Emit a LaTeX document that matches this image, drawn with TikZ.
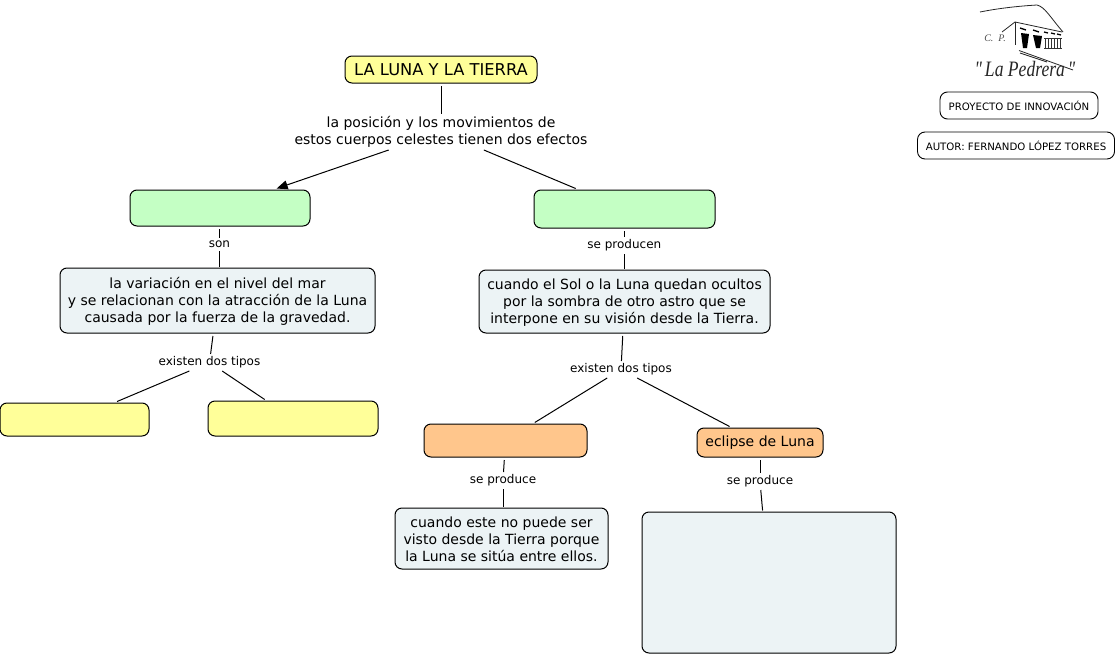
\documentclass[tikz,border=0pt]{standalone}
\usepackage{fontspec}
\setmainfont{DejaVu Sans}
\newfontfamily\logofont{Liberation Serif}
\usetikzlibrary{arrows.meta}
\definecolor{cyellow}{HTML}{FFFF99}
\definecolor{cgreen}{HTML}{C4FFC4}
\definecolor{cblue}{HTML}{ECF3F5}
\definecolor{corange}{HTML}{FFC68C}
\newcommand{\toplift}{\rule{0pt}{12.7pt}}
\tikzset{
  cbox/.style n args={3}{draw=black,line width=1pt,rounded corners=7pt,fill=#1,minimum width=#2,minimum height=#3,inner sep=0pt,outer sep=1.5pt,align=center,font=\fontsize{14}{17}\selectfont},
  linkl/.style={inner sep=0pt,outer sep=0pt,minimum height=#1,text height=9pt,text depth=3pt,font=\fontsize{12}{13}\selectfont},
  infobox/.style n args={2}{draw=black,line width=0.9pt,rounded corners=7.5pt,fill=white,minimum width=#1,minimum height=#2,inner sep=0pt,font=\fontsize{10.2}{11}\selectfont},
  conn/.style={draw=black,line width=1pt},
  fromb/.style={conn,shorten <=1.5pt},
  logoline/.style={draw=black!85,line width=0.8pt},
  logofill/.style={fill=black}
}
\begin{document}
\begin{tikzpicture}[x=1pt,y=-1pt]
\useasboundingbox (0,0) rectangle (1117,656);
\fill[white] (0,0) rectangle (1117,656);
% concept nodes
\node[cbox={cyellow}{192pt}{27pt},font=\fontsize{16.3}{17}\selectfont] (title) at (441,69.5) {LA LUNA Y LA TIERRA};
\node[cbox={cgreen}{180pt}{36pt}] (mareas) at (220,208) {};
\node[cbox={cgreen}{181pt}{38pt}] (eclipses) at (624.5,209) {};
\node[cbox={cblue}{315pt}{65pt}] (varia) at (217.5,300.5) {\toplift la variación en el nivel del mar\\y se relacionan con la atracción de la Luna\\causada por la fuerza de la gravedad.};
\node[cbox={cblue}{291pt}{63pt}] (cuando) at (624.5,301.5) {\toplift cuando el Sol o la Luna quedan ocultos\\por la sombra de otro astro que se\\interpone en su visión desde la Tierra.};
\node[cbox={cyellow}{149pt}{33pt}] (y1) at (74.5,419.5) {};
\node[cbox={cyellow}{170pt}{35pt}] (y2) at (293,418.5) {};
\node[cbox={corange}{163pt}{33pt}] (o1) at (505.5,440.5) {};
\node[cbox={corange}{126pt}{29pt}] (o2) at (760,442.5) {eclipse de Luna};
\node[cbox={cblue}{213pt}{61pt}] (este) at (501.5,538.5) {\toplift cuando este no puede ser\\visto desde la Tierra porque\\la Luna se sitúa entre ellos.};
\node[cbox={cblue}{254pt}{141pt}] (big) at (769,582.5) {};
% linking phrases
\node[inner sep=0pt,outer sep=0pt,minimum height=36pt,align=center,font=\fontsize{14}{17}\selectfont] (lp) at (441,132) {la posición y los movimientos de\\estos cuerpos celestes tienen dos efectos};
\node[linkl=13pt] (son) at (219.5,244.5) {son};
\node[linkl=17pt] (prod) at (624.3,245.5) {se producen};
\node[linkl=17pt] (ex1) at (209.5,362.5) {existen dos tipos};
\node[linkl=17pt] (ex2) at (621,369.5) {existen dos tipos};
\node[linkl=17pt] (sp1) at (503,480.5) {se produce};
\node[linkl=17pt] (sp2) at (760,481.5) {se produce};
% connectors
\draw[fromb] (title) -- (lp);
\draw[conn,-{Triangle[length=11pt,width=9pt]}] (lp) -- (mareas);
\draw[conn] (lp) -- (eclipses);
\draw[fromb] (mareas.south -| son) -- (son.north);
\draw[conn] (son.south) -- (son.south |- varia.north);
\draw[fromb] (eclipses.south -| prod) -- (prod.north);
\draw[conn] (prod.south) -- (prod.south |- cuando.north);
\draw[fromb] (varia) -- (ex1);
\draw[conn] (ex1) -- (y1);
\draw[conn] (ex1) -- (y2);
\draw[fromb] (cuando) -- (ex2);
\draw[conn] (ex2) -- (o1);
\draw[conn] (ex2) -- (o2);
\draw[fromb] (o1) -- (sp1);
\draw[conn] (sp1.south) -- (sp1.south |- este.north);
\draw[fromb] (o2.south -| sp2) -- (sp2.north);
\draw[conn] (sp2) -- (big);
% info boxes
\node[infobox={158pt}{27pt}] (info1) at (1019,105.5) {PROYECTO DE INNOVACIÓN};
\node[infobox={197pt}{27pt}] (info2) at (1016,145.5) {AUTOR: FERNANDO LÓPEZ TORRES};
% logo
\draw[logoline] (980,12) .. controls (1000,8) and (1020,6) .. (1037,5) .. controls (1045,7) and (1050,17) .. (1063,32);
\draw[logoline] (1002,32) -- (1015,22) -- (1062,32);
\draw[logoline] (1015,22) -- (1015,45);
\draw[logoline] (1019,50.5) -- (1073,70);
\draw[logoline] (1020,53) -- (1047,62);
\fill[logofill] (1021,33) -- (1029,34) -- (1027,48) -- (1023,48) -- cycle;
\fill[logofill] (1033,35) -- (1042,36) -- (1040,48) -- (1036,48) -- cycle;
\draw[line width=1.3pt] (1020,28) -- (1026,30) (1033,30) -- (1039,32) (1044,32) -- (1048,33) (1051,33) -- (1055,34) (1057,34) -- (1061,35);
\foreach \xx in {1045,1048,1051,1054,1057,1060} \draw[line width=0.7pt,black!80] (\xx,38) -- (\xx,48);
\draw[line width=0.7pt,black!80] (1044,38) -- (1062,38) (1044,48) -- (1062,48);
\node[inner sep=0pt,font=\logofont\itshape\fontsize{10}{10}\selectfont,text=black!70] (cp) at (995,38) {C.\ \ P.};
\node[inner sep=0pt,font=\logofont\itshape\fontsize{22}{22}\selectfont,text=black!85] (pedrera) at (1025,69) {\scalebox{0.8}[1]{"\,La Pedrera\,"}};
\end{tikzpicture}
\end{document}
